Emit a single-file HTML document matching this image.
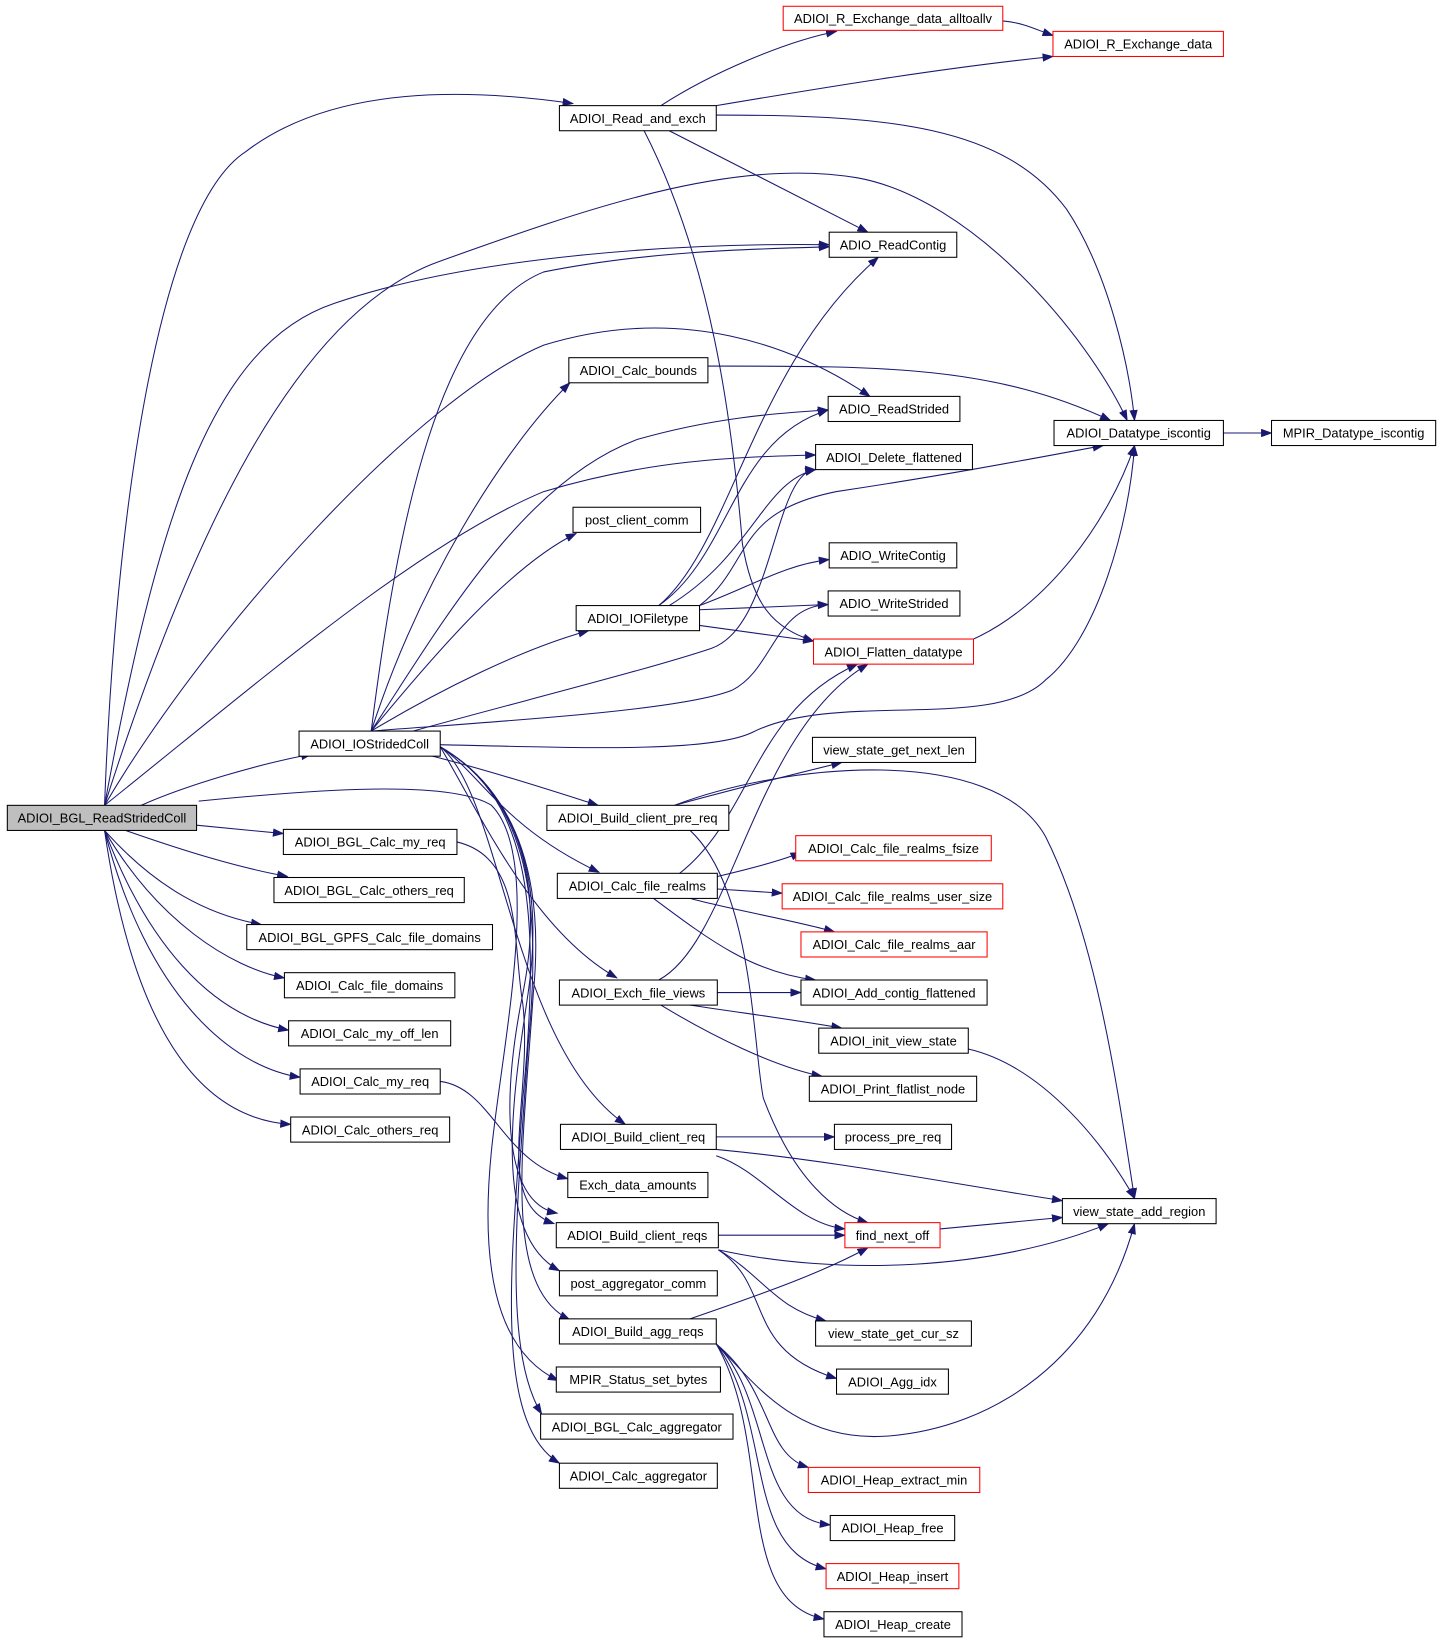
<!DOCTYPE html>
<html><head><meta charset="utf-8"><style>
html,body{margin:0;padding:0;background:#fff;}
svg{display:block;}
text{font-family:"Liberation Sans",sans-serif;font-size:12.3px;fill:#000;}
.e{fill:none;stroke:#191970;stroke-width:1;}
.n{fill:#fff;stroke:#000;stroke-width:1;}
.r{fill:#fff;stroke:#ff0000;stroke-width:1;}
</style></head><body>
<svg width="1443" height="1641" viewBox="0 0 1380 1569" preserveAspectRatio="none" xmlns="http://www.w3.org/2000/svg">
<defs><marker id="a" markerWidth="11" markerHeight="8" refX="10" refY="4" orient="auto" markerUnits="userSpaceOnUse"><path d="M0,0 L11,4 L0,8 z" fill="#191970"/></marker></defs>
<g class="e" marker-end="url(#a)">
<path d="M100,770 C110,500 150,200 235,145 C320,80 450,85 548,99"/>
<path d="M100,770 C150,500 200,330 320,290 C450,245 650,232 793,234"/>
<path d="M100,770 C180,520 280,300 420,250 C560,200 700,150 820,170 C930,190 1040,320 1078,402"/>
<path d="M100,770 C200,600 400,380 520,330 C650,290 760,330 832,379"/>
<path d="M100,770 C250,650 400,520 520,470 C620,440 700,437 780,435"/>
<path d="M135,770 C180,750 250,730 298,721"/>
<path d="M188,789 L271,797"/>
<path d="M120,794 C180,815 230,830 275,838"/>
<path d="M100,794 C150,850 200,875 250,884"/>
<path d="M100,794 C150,880 220,925 272,935"/>
<path d="M100,794 C140,900 200,970 276,985"/>
<path d="M100,794 C140,950 220,1020 287,1030"/>
<path d="M100,794 C130,1000 200,1070 278,1075"/>
<path d="M190,766 C300,755 430,745 470,770 C520,820 480,1000 470,1100 C460,1200 470,1290 534,1320"/>
<path d="M437,805 C500,820 490,900 500,960 C510,1050 470,1150 530,1170"/>
<path d="M421,1034 C470,1040 480,1110 543,1127"/>
<path d="M355,699 C380,500 420,300 520,260 C620,240 720,238 793,236"/>
<path d="M355,699 C400,560 480,430 545,366"/>
<path d="M355,699 C420,600 500,460 610,420 C680,400 740,395 792,392"/>
<path d="M355,699 C420,620 490,540 551,510"/>
<path d="M355,699 C420,660 500,620 563,603"/>
<path d="M395,699 C500,670 620,640 680,620 C740,600 740,450 780,449"/>
<path d="M355,699 C470,690 650,680 700,660 C740,640 740,580 792,578"/>
<path d="M421,712 C550,715 680,720 720,700 C800,660 950,700 1000,650 C1050,610 1080,500 1085,426"/>
<path d="M410,722 C480,740 540,760 572,770"/>
<path d="M421,714 C460,740 480,790 573,834"/>
<path d="M421,714 C460,780 510,890 590,935"/>
<path d="M421,714 C480,760 490,1000 598,1075"/>
<path d="M421,714 C500,760 520,850 500,950 C480,1050 480,1150 533,1160"/>
<path d="M421,714 C500,760 520,850 505,950 C490,1050 470,1180 535,1215"/>
<path d="M421,714 C500,760 520,850 510,950 C500,1100 480,1230 545,1262"/>
<path d="M421,714 C500,760 520,850 505,1000 C495,1150 480,1290 518,1352"/>
<path d="M421,714 C500,760 520,850 500,1050 C490,1200 470,1360 535,1399"/>
<path d="M632,101 C680,70 750,40 800,30"/>
<path d="M685,101 C780,85 900,65 1007,54"/>
<path d="M640,125 L830,222"/>
<path d="M685,110 C850,110 960,120 1020,200 C1060,260 1080,350 1085,402"/>
<path d="M616,125 C680,250 700,400 710,520 C720,580 740,600 778,613"/>
<path d="M959,20 C980,22 990,28 1007,34"/>
<path d="M677,350 C850,350 950,350 1062,402"/>
<path d="M630,579 C700,520 720,350 840,246"/>
<path d="M630,579 C700,530 700,420 792,392"/>
<path d="M640,579 C720,530 730,460 780,449"/>
<path d="M669,579 C720,540 700,490 800,470 C900,455 980,440 1055,426"/>
<path d="M669,579 C720,560 750,540 793,535"/>
<path d="M669,583 L792,578"/>
<path d="M669,598 L778,613"/>
<path d="M931,611 C1000,580 1060,500 1085,426"/>
<path d="M1170,414 L1216,414"/>
<path d="M645,770 C700,755 760,740 805,729"/>
<path d="M645,770 C750,730 950,710 1000,800 C1050,900 1070,1050 1085,1146"/>
<path d="M660,794 C720,850 720,1000 730,1050 C760,1130 800,1160 830,1169"/>
<path d="M650,835 C720,780 720,680 820,635"/>
<path d="M686,838 C720,830 750,822 766,815"/>
<path d="M686,850 L748,854"/>
<path d="M660,859 C700,870 760,880 798,891"/>
<path d="M625,859 C680,900 720,930 780,937"/>
<path d="M630,937 C700,900 720,700 830,635"/>
<path d="M686,949 L766,949"/>
<path d="M660,961 C720,970 760,975 805,983"/>
<path d="M632,961 C680,990 740,1020 786,1029"/>
<path d="M926,1003 C1000,1020 1060,1100 1085,1146"/>
<path d="M685,1087 L798,1087"/>
<path d="M685,1099 C800,1110 900,1130 1016,1148"/>
<path d="M685,1105 C730,1120 760,1170 808,1175"/>
<path d="M687,1181 L808,1181"/>
<path d="M687,1195 C800,1220 950,1215 1060,1170"/>
<path d="M687,1195 C730,1220 740,1250 790,1263"/>
<path d="M687,1195 C740,1230 710,1290 800,1318"/>
<path d="M899,1175 L1016,1164"/>
<path d="M660,1261 C720,1240 780,1220 830,1193"/>
<path d="M685,1285 C720,1320 760,1380 850,1373 C950,1365 1050,1300 1085,1170"/>
<path d="M685,1285 C740,1330 730,1390 773,1403"/>
<path d="M685,1285 C740,1340 720,1450 794,1458"/>
<path d="M685,1285 C740,1360 710,1480 790,1500"/>
<path d="M685,1285 C740,1380 700,1530 788,1548"/>
</g>
<g>
<rect x="7" y="770" width="181" height="24" fill="#bfbfbf" stroke="#000"/><text x="97.5" y="786.5" text-anchor="middle">ADIOI_BGL_ReadStridedColl</text>
<rect class="r" x="749" y="6" width="210" height="23"/><text x="854" y="22" text-anchor="middle">ADIOI_R_Exchange_data_alltoallv</text>
<rect class="r" x="1007" y="30" width="163" height="24"/><text x="1088.5" y="46.5" text-anchor="middle">ADIOI_R_Exchange_data</text>
<rect class="n" x="535" y="101" width="150" height="24"/><text x="610" y="117.5" text-anchor="middle">ADIOI_Read_and_exch</text>
<rect class="n" x="793" y="222" width="122" height="24"/><text x="854" y="238.5" text-anchor="middle">ADIO_ReadContig</text>
<rect class="n" x="544" y="342" width="133" height="24"/><text x="610.5" y="358.5" text-anchor="middle">ADIOI_Calc_bounds</text>
<rect class="n" x="792" y="379" width="126" height="24"/><text x="855" y="395.5" text-anchor="middle">ADIO_ReadStrided</text>
<rect class="n" x="1008" y="402" width="162" height="24"/><text x="1089" y="418.5" text-anchor="middle">ADIOI_Datatype_iscontig</text>
<rect class="n" x="1216" y="402" width="157" height="24"/><text x="1294.5" y="418.5" text-anchor="middle">MPIR_Datatype_iscontig</text>
<rect class="n" x="780" y="425" width="150" height="24"/><text x="855" y="441.5" text-anchor="middle">ADIOI_Delete_flattened</text>
<rect class="n" x="548" y="485" width="122" height="24"/><text x="609" y="501.5" text-anchor="middle">post_client_comm</text>
<rect class="n" x="793" y="519" width="122" height="24"/><text x="854" y="535.5" text-anchor="middle">ADIO_WriteContig</text>
<rect class="n" x="551" y="579" width="118" height="24"/><text x="610" y="595.5" text-anchor="middle">ADIOI_IOFiletype</text>
<rect class="n" x="792" y="565" width="126" height="24"/><text x="855" y="581.5" text-anchor="middle">ADIO_WriteStrided</text>
<rect class="r" x="778" y="611" width="153" height="24"/><text x="854.5" y="627.5" text-anchor="middle">ADIOI_Flatten_datatype</text>
<rect class="n" x="286" y="699" width="135" height="24"/><text x="353.5" y="715.5" text-anchor="middle">ADIOI_IOStridedColl</text>
<rect class="n" x="777" y="705" width="156" height="24"/><text x="855" y="721.5" text-anchor="middle">view_state_get_next_len</text>
<rect class="n" x="523" y="770" width="174" height="24"/><text x="610" y="786.5" text-anchor="middle">ADIOI_Build_client_pre_req</text>
<rect class="n" x="271" y="793" width="166" height="24"/><text x="354" y="809.5" text-anchor="middle">ADIOI_BGL_Calc_my_req</text>
<rect class="r" x="761" y="799" width="187" height="24"/><text x="854.5" y="815.5" text-anchor="middle">ADIOI_Calc_file_realms_fsize</text>
<rect class="n" x="533" y="835" width="153" height="24"/><text x="609.5" y="851.5" text-anchor="middle">ADIOI_Calc_file_realms</text>
<rect class="n" x="262" y="839" width="182" height="24"/><text x="353" y="855.5" text-anchor="middle">ADIOI_BGL_Calc_others_req</text>
<rect class="r" x="748" y="845" width="211" height="24"/><text x="853.5" y="861.5" text-anchor="middle">ADIOI_Calc_file_realms_user_size</text>
<rect class="n" x="236" y="884" width="235" height="24"/><text x="353.5" y="900.5" text-anchor="middle">ADIOI_BGL_GPFS_Calc_file_domains</text>
<rect class="r" x="766" y="891" width="178" height="24"/><text x="855" y="907.5" text-anchor="middle">ADIOI_Calc_file_realms_aar</text>
<rect class="n" x="272" y="930" width="163" height="24"/><text x="353.5" y="946.5" text-anchor="middle">ADIOI_Calc_file_domains</text>
<rect class="n" x="535" y="937" width="151" height="24"/><text x="610.5" y="953.5" text-anchor="middle">ADIOI_Exch_file_views</text>
<rect class="n" x="766" y="937" width="178" height="24"/><text x="855" y="953.5" text-anchor="middle">ADIOI_Add_contig_flattened</text>
<rect class="n" x="276" y="976" width="155" height="24"/><text x="353.5" y="992.5" text-anchor="middle">ADIOI_Calc_my_off_len</text>
<rect class="n" x="783" y="983" width="143" height="24"/><text x="854.5" y="999.5" text-anchor="middle">ADIOI_init_view_state</text>
<rect class="n" x="287" y="1022" width="134" height="24"/><text x="354" y="1038.5" text-anchor="middle">ADIOI_Calc_my_req</text>
<rect class="n" x="774" y="1029" width="160" height="24"/><text x="854" y="1045.5" text-anchor="middle">ADIOI_Print_flatlist_node</text>
<rect class="n" x="278" y="1068" width="152" height="24"/><text x="354" y="1084.5" text-anchor="middle">ADIOI_Calc_others_req</text>
<rect class="n" x="536" y="1075" width="149" height="24"/><text x="610.5" y="1091.5" text-anchor="middle">ADIOI_Build_client_req</text>
<rect class="n" x="798" y="1075" width="112" height="24"/><text x="854" y="1091.5" text-anchor="middle">process_pre_req</text>
<rect class="n" x="543" y="1121" width="134" height="24"/><text x="610" y="1137.5" text-anchor="middle">Exch_data_amounts</text>
<rect class="n" x="1016" y="1146" width="147" height="24"/><text x="1089.5" y="1162.5" text-anchor="middle">view_state_add_region</text>
<rect class="n" x="532" y="1169" width="155" height="24"/><text x="609.5" y="1185.5" text-anchor="middle">ADIOI_Build_client_reqs</text>
<rect class="r" x="808" y="1169" width="91" height="24"/><text x="853.5" y="1185.5" text-anchor="middle">find_next_off</text>
<rect class="n" x="535" y="1215" width="151" height="24"/><text x="610.5" y="1231.5" text-anchor="middle">post_aggregator_comm</text>
<rect class="n" x="535" y="1261" width="150" height="24"/><text x="610" y="1277.5" text-anchor="middle">ADIOI_Build_agg_reqs</text>
<rect class="n" x="780" y="1263" width="149" height="24"/><text x="854.5" y="1279.5" text-anchor="middle">view_state_get_cur_sz</text>
<rect class="n" x="532" y="1307" width="157" height="24"/><text x="610.5" y="1323.5" text-anchor="middle">MPIR_Status_set_bytes</text>
<rect class="n" x="800" y="1309" width="107" height="24"/><text x="853.5" y="1325.5" text-anchor="middle">ADIOI_Agg_idx</text>
<rect class="n" x="517" y="1352" width="184" height="24"/><text x="609" y="1368.5" text-anchor="middle">ADIOI_BGL_Calc_aggregator</text>
<rect class="r" x="773" y="1403" width="164" height="24"/><text x="855" y="1419.5" text-anchor="middle">ADIOI_Heap_extract_min</text>
<rect class="n" x="535" y="1399" width="151" height="24"/><text x="610.5" y="1415.5" text-anchor="middle">ADIOI_Calc_aggregator</text>
<rect class="n" x="794" y="1449" width="119" height="24"/><text x="853.5" y="1465.5" text-anchor="middle">ADIOI_Heap_free</text>
<rect class="r" x="790" y="1495" width="127" height="24"/><text x="853.5" y="1511.5" text-anchor="middle">ADIOI_Heap_insert</text>
<rect class="n" x="788" y="1541" width="132" height="24"/><text x="854" y="1557.5" text-anchor="middle">ADIOI_Heap_create</text>
</g>
</svg>
</body></html>
